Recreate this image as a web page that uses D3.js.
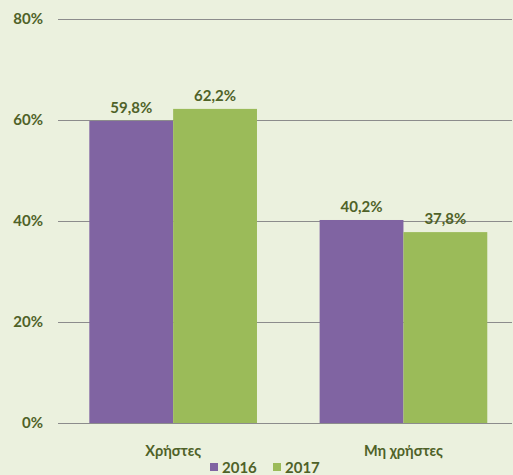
<!DOCTYPE html>
<html><head><meta charset="utf-8">
<script src="https://cdn.jsdelivr.net/npm/d3@7"></script>
<style>body{margin:0;background:#EBF1DE;}svg{display:block;}</style>
</head><body>
<script>
const categories = ["Χρήστες", "Μη χρήστες"];
const series = ["2016", "2017"];
const values2016 = [59.8, 40.2];
const values2017 = [62.2, 37.8];
const yTicks = [0, 20, 40, 60, 80];
const colors = ["#8064A2", "#9BBB59"];

const W = 513, H = 475;
const svg = d3.select("body").append("svg").attr("width", W).attr("height", H);
svg.append("rect").attr("width", W).attr("height", H).attr("fill", "#EBF1DE");
const txt = "#4F6228";
const font = "Lato, 'Open Sans', sans-serif";

const y = d3.scaleLinear().domain([0, 80]).range([423, 19]);
const x0 = d3.scaleBand().domain(categories).range([58, 518.6]).paddingInner(0.272).paddingOuter(0.136);
const x1 = d3.scaleBand().domain(series).range([0, x0.bandwidth()]);

// gridlines
svg.append("g").selectAll("line").data(yTicks).join("line")
  .attr("x1", 58).attr("x2", 512)
  .attr("y1", d => Math.round(y(d)) + 0.5).attr("y2", d => Math.round(y(d)) + 0.5)
  .attr("stroke", "#8c8c8c").attr("stroke-width", 1);

// y labels
svg.append("g").selectAll("text").data(yTicks).join("text")
  .attr("x", 43).attr("y", d => y(d) + 5)
  .attr("text-anchor", "end").attr("font-family", font).attr("font-weight", "bold")
  .attr("font-size", 15).attr("fill", txt).text(d => d + "%");

const data = categories.map((c, i) => ({c, vals: [values2016[i], values2017[i]]}));
const groups = svg.append("g").selectAll("g").data(data).join("g")
  .attr("transform", d => `translate(${x0(d.c)},0)`);
groups.selectAll("rect").data(d => d.vals.map((v, j) => ({s: series[j], v, j}))).join("rect")
  .attr("x", d => x1(d.s)).attr("width", x1.bandwidth())
  .attr("y", d => y(d.v)).attr("height", d => y(0) - y(d.v))
  .attr("fill", d => colors[d.j]);
groups.selectAll("text").data(d => d.vals.map((v, j) => ({s: series[j], v, j}))).join("text")
  .attr("x", d => x1(d.s) + x1.bandwidth() / 2).attr("y", d => y(d.v) - 8)
  .attr("text-anchor", "middle").attr("font-family", font).attr("font-weight", "bold")
  .attr("font-size", 15).attr("fill", txt)
  .text(d => d.v.toFixed(1).replace(".", ",") + "%");

// axis line redraw on top
svg.append("line").attr("x1", 58).attr("x2", 512).attr("y1", Math.round(y(0)) + 0.5).attr("y2", Math.round(y(0)) + 0.5)
  .attr("stroke", "#8c8c8c");

// category labels
svg.append("g").selectAll("text").data(categories).join("text")
  .attr("x", d => x0(d) + x0.bandwidth() / 2).attr("y", 456)
  .attr("text-anchor", "middle").attr("font-family", font).attr("font-weight", "bold")
  .attr("font-size", 14.5).attr("fill", txt).text(d => d);

// legend
const legX = [210, 273];
const leg = svg.append("g").selectAll("g").data(series).join("g")
  .attr("transform", (d, i) => `translate(${legX[i]},463)`);
leg.append("rect").attr("width", 8).attr("height", 8).attr("fill", (d, i) => colors[i]);
leg.append("text").attr("x", 12).attr("y", 9.5).attr("font-family", font).attr("font-weight", "bold")
  .attr("font-size", 15).attr("fill", txt).text(d => d);
</script>
</body></html>
